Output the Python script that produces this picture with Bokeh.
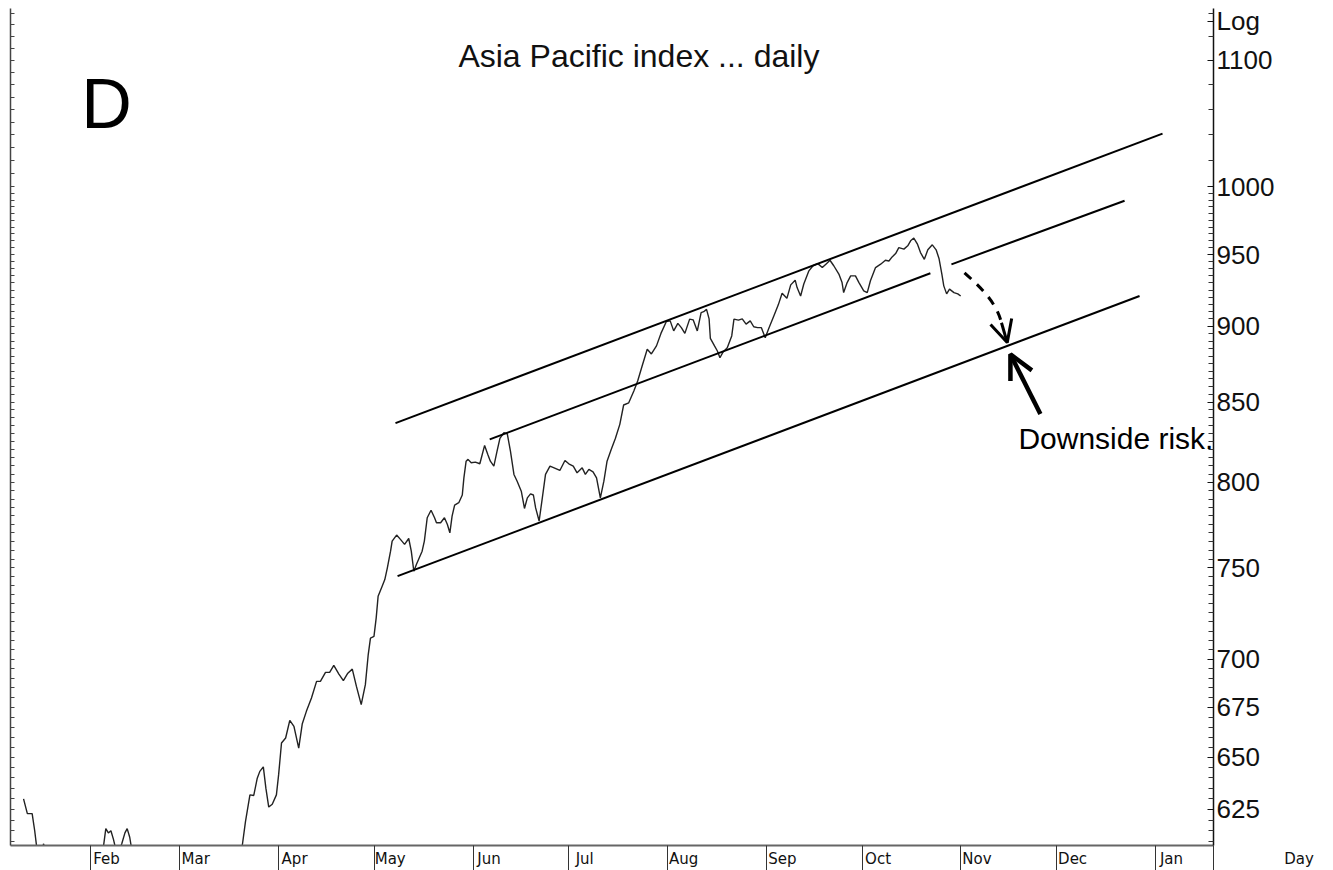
import pandas as pd
from bokeh.plotting import figure
from bokeh.layouts import row
from bokeh.models import (Range1d, LogAxis, FixedTicker, DatetimeTickFormatter,
                          PrintfTickFormatter, Label, Arrow, OpenHead, ColumnDataSource)
from bokeh.embed import file_html
from bokeh.resources import INLINE

BASE = pd.Timestamp("2009-01-01")


def ms(day):
    return (BASE + pd.Timedelta(days=day)).value / 1e6


# ---------------- data (day = days since 1 Jan 2009) -------------
day = [10.0, 11.2, 12.7, 13.5, 14.5, 15.8, 16.3, 16.8, 18.5, 21.0, 24.0, 27.0, 30.0, 32.5, 34.5,
       35.0, 35.8, 36.6, 37.4, 38.2, 39.0, 39.6, 40.8, 41.8, 42.5, 43.3, 44.2,
       46.0, 50.0, 55.0, 60.0, 65.0, 70.0, 74.0, 77.0, 78.6,
       79.6, 81.0, 82.2, 83.3, 84.1, 85.2, 86.0, 86.9, 88.0, 89.3,
       90.0, 90.9, 92.2, 93.5, 94.8, 96.3, 97.4, 98.7, 100.3, 101.9,
       103.1, 104.7, 106.0, 107.3, 108.9, 110.3, 111.7, 113.1, 114.4, 115.9,
       117.2, 118.1, 118.8, 119.9, 120.6, 121.2, 122.5, 123.3, 124.1, 125.1,
       125.6, 127.0, 128.2, 129.5, 130.8, 131.6, 132.4, 133.2, 135.0, 135.7,
       136.6, 137.8, 138.9, 139.5, 140.8, 142.0, 142.9, 143.7, 144.4, 145.2,
       146.5, 147.6, 148.1, 148.8, 149.4, 150.4, 151.7, 153.1, 154.6, 155.6,
       156.4, 157.5, 158.5, 159.4, 160.6, 161.7, 162.7, 163.8, 164.8, 166.1,
       167.1, 168.0, 169.0, 169.9, 170.6, 171.7, 172.7, 173.7, 175.1, 176.4,
       178.2, 179.8, 181.0, 182.4, 183.6, 185.2, 186.2, 187.3, 188.6, 189.7,
       190.9, 192.0, 193.0, 194.3, 195.6, 197.0, 198.2, 199.8, 201.4, 202.6,
       204.0, 205.6, 206.9, 208.5, 209.9, 211.6, 212.8, 213.9, 215.2, 216.3,
       217.4, 218.9, 220.0, 221.3, 222.5, 223.3, 224.2, 225.0, 225.4, 226.7,
       227.6, 228.4, 229.4, 230.7, 232.1, 232.8, 234.2, 235.4, 236.6, 237.9,
       239.0, 240.2, 241.4, 242.6, 243.8, 245.3, 246.7, 247.9, 249.4, 250.6,
       252.0, 252.6, 253.7, 254.7, 256.3, 257.6, 259.1, 260.5, 261.8, 262.9,
       264.1, 265.7, 266.7, 267.2, 268.3, 269.4, 270.9, 272.0, 273.5, 274.6,
       275.6, 277.2, 278.8, 280.3, 281.4, 282.4, 283.5, 284.5, 286.1, 287.3,
       288.2, 289.2, 290.3, 291.3, 292.5, 293.6, 295.0, 296.2, 297.1, 298.0,
       298.6, 299.5, 300.4, 301.8, 303.0, 303.9]

close = [630, 623, 623, 615, 603, 606, 609, 604, 597, 593, 590, 594, 598, 601, 604,
         607, 616, 614, 615, 611, 606, 604, 609, 614, 616, 612, 604,
         596, 588, 582, 577, 574, 580, 590, 600, 608.2,
         619.3, 631.9, 631.6, 639.9, 643.2, 645.4, 635.1, 626.1, 627.4, 631.9,
         641.6, 657.1, 659.6, 668.4, 665.4, 654.6, 666.6, 673.0, 679.8, 688.4,
         688.4, 693.1, 693.1, 696.8, 692.2, 688.8, 692.7, 694.8, 685.8, 676.4,
         686.7, 702.5, 711.3, 712.2, 722.2, 734.1, 739.8, 743.4, 750.0, 759.5,
         765.3, 768.8, 766.3, 763.4, 766.8, 759.5, 748.1, 751.9, 759.5, 765.3,
         778.9, 783.3, 778.9, 776.0, 776.0, 778.9, 775.1, 770.1, 779.9, 786.4,
         787.8, 792.4, 802.7, 812.9, 814.0, 811.9, 812.3, 811.3, 822.6, 817.0,
         812.9, 809.9, 819.1, 827.0, 830.5, 829.9, 819.1, 804.8, 800.7, 794.7,
         784.4, 790.7, 793.1, 792.4, 784.7, 777.0, 790.7, 804.8, 809.9, 808.8,
         807.2, 813.3, 811.3, 809.9, 805.8, 808.8, 804.8, 807.9, 806.4, 802.7,
         790.7, 800.7, 812.9, 820.1, 826.9, 835.8, 848.1, 849.5, 857.1, 863.6,
         873.4, 884.5, 881.4, 886.8, 895.2, 903.3, 903.7, 896.9, 902.0, 899.1,
         895.2, 904.9, 904.4, 896.9, 909.4, 910.0, 911.6, 905.1, 891.8, 886.8,
         883.4, 878.9, 882.8, 885.5, 893.5, 904.9, 904.2, 905.1, 901.5, 903.7,
         899.7, 899.1, 899.1, 892.3, 899.1, 907.1, 914.7, 922.7, 919.2, 928.6,
         931.9, 926.7, 920.8, 929.2, 938.5, 942.1, 943.6, 940.8, 943.6, 946.0,
         942.1, 936.2, 930.2, 923.2, 930.2, 934.9, 934.9, 930.2, 924.4, 923.2,
         931.5, 940.8, 943.2, 946.0, 945.5, 948.4, 950.8, 955.1, 954.0, 956.4,
         960.0, 962.0, 957.8, 951.5, 946.7, 953.5, 957.1, 953.5, 947.3, 936.2,
         927.9, 922.3, 925.6, 923.2, 922.3, 920.8]

# channel lines: [start, end] in (day, value)
upper_day, upper_val = [126.65, 367.2], [836.6, 1040.9]
mid_a_day, mid_a_val = [156.2, 294.4], [826.4, 936.8]
mid_b_day, mid_b_val = [301.0, 355.3], [943.1, 989.5]
lower_day, lower_val = [127.3, 360.0], [745.3, 920.8]

month_starts = ["2009-02-01", "2009-03-01", "2009-04-01", "2009-05-01", "2009-06-01",
                "2009-07-01", "2009-08-01", "2009-09-01", "2009-10-01", "2009-11-01",
                "2009-12-01", "2010-01-01"]
price_labels = [625, 650, 675, 700, 750, 800, 850, 900, 950, 1000, 1100]
scale_caption_at = 1133  # where "Log" sits on the price scale

# ---------------- main figure -------------------------------------------------------------
X0, X1 = ms(5.91), ms(383.19)
p = figure(width=1280, height=870, x_axis_type="datetime", y_axis_type="log",
           x_range=Range1d(X0, X1), y_range=Range1d(608.2, 1144),
           output_backend="svg", toolbar_location=None,
           min_border_left=10, min_border_right=67, min_border_top=8, min_border_bottom=25,
           background_fill_color="white", border_fill_color="white")
p.outline_line_color = None
p.grid.visible = False

# bottom axis: separators at month starts (minor ticks), names just right of them
ms_starts = [pd.Timestamp(m).value / 1e6 for m in month_starts]
label_pos = [v + 5 * 86400000 for v in ms_starts]
xa = p.xaxis[0]
xa.ticker = FixedTicker(ticks=label_pos, minor_ticks=ms_starts + [X1 - 3600000])
fmt = "%b"
xa.formatter = DatetimeTickFormatter(microseconds=fmt, milliseconds=fmt, seconds=fmt, minsec=fmt,
                                     minutes=fmt, hourmin=fmt, hours=fmt, days=fmt,
                                     months=fmt, years=fmt)
xa.major_tick_in = 0
xa.major_tick_out = 0
xa.minor_tick_in = 0
xa.minor_tick_out = 25
xa.minor_tick_line_color = "#333333"
xa.minor_tick_line_width = 1
xa.axis_line_color = "#666666"
xa.axis_line_width = 2
xa.major_label_standoff = -21
xa.major_label_text_font = "DejaVu Sans"
xa.major_label_text_font_size = "15px"
xa.major_label_text_color = "#111111"

# left axis: ticks only
left_minor = list(range(610, 1000, 5)) + list(range(1000, 1150, 10))
ya = p.yaxis[0]
ya.ticker = FixedTicker(ticks=[], minor_ticks=left_minor)
ya.major_tick_in = 0
ya.major_tick_out = 0
ya.major_label_standoff = 0
ya.minor_tick_in = 4
ya.minor_tick_out = 0
ya.minor_tick_line_color = "#444444"
ya.axis_line_color = "#444444"
ya.axis_line_width = 1.5

# right axis: labelled price scale
right_minor = [v for v in range(610, 1000, 5) if v not in price_labels] + [1020, 1040, 1060, 1080, 1120, 1140]
ra = LogAxis(ticker=FixedTicker(ticks=price_labels + [scale_caption_at], minor_ticks=right_minor),
             formatter=PrintfTickFormatter(format="%d"),
             major_label_overrides={scale_caption_at: "Log"})
ra.major_tick_in = 6
ra.major_tick_out = 0
ra.minor_tick_in = 5
ra.minor_tick_out = 0
ra.major_label_standoff = 3
ra.major_label_text_font = "'Liberation Sans', Arial, sans-serif"
ra.major_label_text_font_size = "26px"
ra.major_label_text_color = "#111111"
ra.axis_line_color = "#111111"
ra.axis_line_width = 1.5
ra.major_tick_line_color = "#111111"
ra.minor_tick_line_color = "#333333"
p.add_layout(ra, "right")

# ---------------- series and channel ------------------------------------------------------
src = ColumnDataSource(dict(x=[ms(d) for d in day], y=close))
p.line("x", "y", source=src, line_color="#222222", line_width=1.4)

for dd, vv in [(upper_day, upper_val), (mid_a_day, mid_a_val),
               (mid_b_day, mid_b_val), (lower_day, lower_val)]:
    p.line([ms(d) for d in dd], vv, line_color="black", line_width=2)

# dashed curved arrow
p.bezier(x0=[ms(305.1)], y0=[937.1], x1=[ms(316.7)], y1=[902.4],
         cx0=[ms(310.7)], cy0=[925.8], cx1=[ms(315.1)], cy1=[916.1],
         line_color="black", line_width=3, line_dash="9 8")
p.add_layout(Arrow(end=OpenHead(size=22, line_width=3, line_color="black"),
                   x_start=ms(316.7), y_start=902.4, x_end=ms(318.5), y_end=889.0,
                   line_color="black", line_width=3))
# solid arrow
p.add_layout(Arrow(end=OpenHead(size=24, line_width=4.5, line_color="black"),
                   x_start=ms(328.9), y_start=842.3, x_end=ms(319.5), y_end=881.2,
                   line_color="black", line_width=4.5))

# ---------------- texts -------------------------------------------------------------------
SANS = "'Liberation Sans', Arial, sans-serif"
p.add_layout(Label(x=ms(203.0), y=1103.7, text="Asia Pacific index ... daily",
                   text_font=SANS, text_font_size="32px", text_align="center",
                   text_baseline="alphabetic", text_color="#111111"))
p.add_layout(Label(x=ms(28.1), y=1064.8, text="D", text_font=SANS, text_font_size="70px",
                   text_align="left", text_baseline="alphabetic", text_color="black"))
p.add_layout(Label(x=ms(322.0), y=827.2, text="Downside risk.", text_font=SANS,
                   text_font_size="30px", text_align="left", text_baseline="alphabetic",
                   text_color="black"))

# ---------------- narrow strip on the right: the time-axis caption "Day" -------------------
caption_at = 0.35
side = figure(width=53, height=870, x_range=Range1d(0, 1), y_range=Range1d(0, 1),
              y_axis_location=None,
              min_border_left=0, min_border_right=0, min_border_top=8, min_border_bottom=25,
              toolbar_location=None, output_backend="svg",
              background_fill_color="white", border_fill_color="white")
side.outline_line_color = None
side.grid.visible = False
sx = side.xaxis[0]
sx.ticker = FixedTicker(ticks=[caption_at], minor_ticks=[])
sx.major_label_overrides = {caption_at: "Day"}
sx.axis_line_color = None
sx.major_tick_line_color = None
sx.minor_tick_line_color = None
sx.major_tick_in = 0
sx.major_tick_out = 0
sx.major_label_standoff = 4
sx.major_label_text_font = "DejaVu Sans"
sx.major_label_text_font_size = "15px"
sx.major_label_text_color = "#111111"

open("out.html", "w").write(file_html(row(p, side), INLINE, title="Asia Pacific index"))
